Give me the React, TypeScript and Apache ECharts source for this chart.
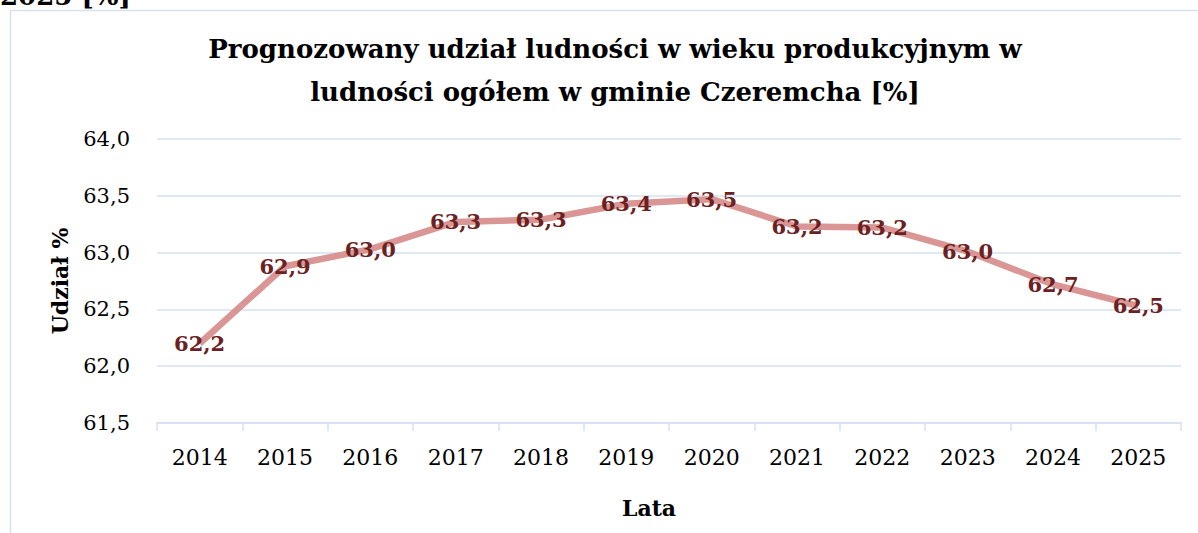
import React, { useEffect, useRef } from "react";
import * as echarts from "echarts";

const years = ["2014", "2015", "2016", "2017", "2018", "2019", "2020", "2021", "2022", "2023", "2024", "2025"];
const shareValues = [62.2, 62.88, 63.03, 63.27, 63.29, 63.43, 63.47, 63.23, 63.22, 63.01, 62.72, 62.53];
const titleText = "Prognozowany udział ludności w wieku produkcyjnym w\nludności ogółem w gminie Czeremcha [%]";
const yAxisName = "Udział %";
const xAxisName = "Lata";
const topCutText = "2025 [%]";

const FONT = "'DejaVu Serif', 'Liberation Serif', serif";

export default function App() {
  const ref = useRef<HTMLDivElement>(null);
  useEffect(() => {
    if (!ref.current) return;
    const chart = echarts.init(ref.current, null, { renderer: "svg" });
    chart.setOption({
      animation: false,
      backgroundColor: "#ffffff",
      title: {
        text: titleText,
        left: 610,
        top: 22,
        textAlign: "center",
        textStyle: {
          fontFamily: FONT,
          fontWeight: "bold",
          fontSize: 26,
          lineHeight: 43,
          color: "#000000",
        },
      },
      graphic: [
        {
          type: "rect",
          shape: { x: 10.5, y: 10.5, width: 1400, height: 800 },
          style: { fill: "none", stroke: "#d5e1f2", lineWidth: 1.5 },
          silent: true,
        },
        {
          type: "text",
          x: 0,
          y: 9,
          style: {
            text: topCutText,
            fontFamily: FONT,
            fontWeight: "bold",
            fontSize: 26,
            fill: "#000000",
            verticalAlign: "bottom",
          },
        },
      ],
      grid: { left: 157, right: 17, top: 139, bottom: 110, containLabel: false },
      xAxis: {
        type: "category",
        data: years,
        boundaryGap: true,
        name: xAxisName,
        nameLocation: "middle",
        nameGap: 74,
        nameTextStyle: {
          fontFamily: FONT,
          fontWeight: "bold",
          fontSize: 22,
          color: "#000000",
          padding: [0, 40, 0, 0],
        },
        axisLine: { show: true, lineStyle: { color: "#d5e1f2", width: 1.5 } },
        axisTick: { show: true, length: 8, lineStyle: { color: "#d5e1f2", width: 1.5 } },
        axisLabel: { fontFamily: FONT, fontSize: 22, color: "#000000", margin: 23 },
        splitLine: { show: false },
      },
      yAxis: {
        type: "value",
        min: 61.5,
        max: 64,
        interval: 0.5,
        name: yAxisName,
        nameLocation: "middle",
        nameGap: 86,
        nameRotate: 90,
        nameTextStyle: { fontFamily: FONT, fontWeight: "bold", fontSize: 22, color: "#000000" },
        axisLine: { show: false },
        axisTick: { show: false },
        axisLabel: {
          fontFamily: FONT,
          fontSize: 21,
          color: "#000000",
          margin: 27,
          formatter: (v: number) => v.toFixed(1).replace(".", ","),
        },
        splitLine: { show: true, lineStyle: { color: "#d5e1f2", width: 1.5 } },
      },
      series: [
        {
          type: "line",
          data: shareValues,
          symbol: "circle",
          symbolSize: 0,
          showSymbol: true,
          lineStyle: { color: "#d99694", width: 6.5 },
          itemStyle: { color: "#d99694" },
          label: {
            show: true,
            position: "inside",
            fontFamily: FONT,
            fontWeight: "bold",
            fontSize: 21,
            color: "#6b2121",
            formatter: (p: any) => Number(p.value).toFixed(1).replace(".", ","),
          },
        },
      ],
    });
    return () => chart.dispose();
  }, []);
  return <div ref={ref} style={{ position: "absolute", left: 0, top: 0, width: 1198, height: 533 }} />;
}
